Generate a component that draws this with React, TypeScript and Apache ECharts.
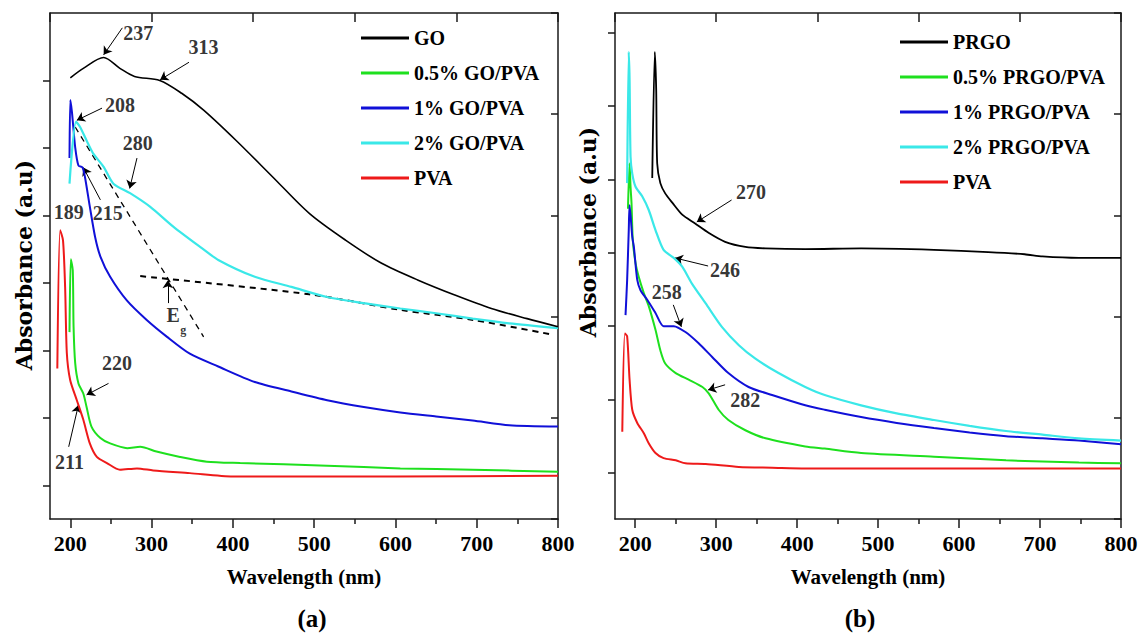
import React, { useEffect, useRef } from 'react';
import * as echarts from 'echarts';

// ---------- axis ticks ----------
const X_MAJOR = [200, 300, 400, 500, 600, 700, 800];
const X_MINOR = [250, 350, 450, 550, 650, 750];
const A_Y_TICKS = [0.5, 1.5, 2.5, 3.5, 4.5, 5.5, 6.5];
const B_Y_TICKS = [0, 1, 2, 3, 4, 5, 6];

// ---------- panel (a) ----------
const A_NAMES = ['GO', '0.5% GO/PVA', '1% GO/PVA', '2% GO/PVA', 'PVA'];
const GO = [[200, 6.54], [216, 6.68], [241, 6.84], [261, 6.68], [279, 6.56], [310, 6.5], [337, 6.31], [364, 6.06], [404, 5.61], [449, 5.07], [494, 4.53], [539, 4.13], [583, 3.79], [628, 3.54], [673, 3.32], [718, 3.12], [762, 2.97], [800, 2.85]];
const GO_PVA_05 = [[199, 2.77], [200.6, 3.85], [203, 3.69], [204, 2.85], [206, 2.31], [210, 2.01], [216, 1.86], [220, 1.66], [226, 1.37], [237, 1.2], [249, 1.12], [270, 1.05], [286, 1.07], [306, 1.0], [335, 0.92], [368, 0.85], [409, 0.83], [516, 0.79], [606, 0.75], [695, 0.73], [800, 0.7]];
const GO_PVA_1 = [[199, 5.35], [200, 6.21], [202, 6.03], [206, 5.51], [210, 5.24], [215, 5.21], [218, 5.07], [224, 4.63], [230.5, 4.18], [237, 3.89], [249, 3.59], [269.5, 3.24], [294, 2.95], [319, 2.7], [347, 2.45], [382, 2.26], [427, 2.03], [472, 1.89], [516, 1.76], [561, 1.66], [606, 1.58], [650, 1.52], [695, 1.46], [740, 1.39], [800, 1.37]];
const GO_PVA_2 = [[199, 4.97], [207, 5.89], [212, 5.81], [220, 5.61], [228, 5.42], [241, 5.22], [253, 4.97], [273.5, 4.83], [298, 4.63], [327, 4.33], [360, 4.03], [382, 3.84], [427, 3.59], [472, 3.44], [516, 3.29], [561, 3.2], [606, 3.12], [650, 3.05], [695, 2.97], [740, 2.9], [800, 2.83]];
const PVA_A = [[184, 2.23], [187.5, 4.28], [191, 4.13], [193.6, 3.44], [195.7, 2.46], [199.8, 2.06], [208, 1.76], [216, 1.47], [224, 1.12], [232.6, 0.92], [245, 0.83], [261, 0.73], [282, 0.75], [302, 0.72], [347, 0.68], [400, 0.63], [600, 0.63], [800, 0.64]];
const EG_STEEP = [[206, 5.81], [364, 2.7]];
const EG_FLAT = [[286, 3.6], [494, 3.33], [606, 3.1], [696, 2.95], [794, 2.73]];
const A_LABELS: [string, number, number][] = [['237', 283.5, 7.2], ['313', 364, 7.0], ['208', 261, 6.14], ['280', 283, 5.57], ['215', 246, 4.53], ['189', 198, 4.55], ['220', 257.5, 2.31], ['211', 199, 0.85]];
const A_ARROWS = [[[264, 7.28], [241, 6.88]], [[346, 6.77], [310.5, 6.51]], [[239, 6.09], [208, 5.91]], [[282, 5.35], [273, 4.9]], [[237, 4.73], [216, 5.21]], [[247, 2.01], [220, 1.84]], [[198, 1.07], [210, 1.69]], [[320, 3.2], [320, 3.54]]];

// ---------- panel (b) ----------
const B_NAMES = ['PRGO', '0.5% PRGO/PVA', '1% PRGO/PVA', '2% PRGO/PVA', 'PVA'];
const PRGO = [[221, 4.02], [224.2, 5.74], [225.9, 5.22], [227.1, 4.22], [231, 3.95], [237, 3.81], [246, 3.68], [258, 3.52], [274, 3.4], [291, 3.27], [311, 3.15], [336, 3.08], [361, 3.06], [410, 3.05], [479, 3.06], [569, 3.04], [636, 3.01], [681, 2.98], [703, 2.95], [748, 2.93], [800, 2.93]];
const PRGO_PVA_05 = [[191, 3.6], [193, 4.22], [194.2, 3.9], [195.4, 3.68], [197, 3.17], [200.4, 2.86], [204.4, 2.67], [210.6, 2.45], [216.8, 2.27], [225, 1.95], [231, 1.67], [237, 1.49], [250, 1.36], [266, 1.27], [283, 1.17], [291, 1.08], [303, 0.86], [315, 0.72], [336, 0.58], [361, 0.47], [410, 0.36], [434, 0.33], [479, 0.27], [569, 0.22], [658, 0.17], [748, 0.14], [800, 0.13]];
const PRGO_PVA_1 = [[188, 2.15], [190, 2.63], [192, 3.31], [193, 3.65], [196.3, 3.22], [198.3, 3.08], [202.5, 2.63], [206.5, 2.49], [214.8, 2.36], [225, 2.18], [235, 2.0], [247.6, 2.0], [262, 1.92], [278, 1.77], [295, 1.58], [315, 1.36], [340, 1.17], [369, 1.06], [410, 0.92], [434, 0.86], [479, 0.76], [523, 0.68], [569, 0.61], [613, 0.55], [658, 0.5], [703, 0.47], [748, 0.44], [800, 0.39]];
const PRGO_PVA_2 = [[190, 3.95], [192, 5.74], [193, 5.36], [194.2, 4.31], [196.3, 4.08], [200.4, 3.9], [208.6, 3.77], [216.8, 3.58], [225, 3.31], [235, 3.04], [247.6, 2.93], [258, 2.81], [270, 2.58], [287, 2.31], [307, 1.99], [328, 1.74], [348, 1.56], [377, 1.36], [410, 1.17], [434, 1.06], [479, 0.92], [523, 0.81], [569, 0.72], [613, 0.64], [658, 0.57], [703, 0.52], [748, 0.47], [800, 0.44]];
const PVA_B = [[184, 0.56], [187.2, 1.9], [190, 1.86], [193, 1.27], [196.3, 0.86], [202.5, 0.68], [210.6, 0.54], [216.8, 0.4], [225, 0.27], [235, 0.2], [250, 0.17], [262, 0.13], [287, 0.12], [328, 0.08], [369, 0.07], [410, 0.06], [800, 0.06]];
const B_LABELS: [string, number, number][] = [['270', 343, 3.83], ['246', 311, 2.77], ['258', 239, 2.47], ['282', 336, 0.99]];
const B_ARROWS = [[[319, 3.72], [276, 3.42]], [[290, 2.82], [249, 2.93]], [[247, 2.29], [257, 1.99]], [[311, 1.2], [290, 1.13]]];

const COLORS = { black: '#000000', green: '#1ee01e', blue: '#1010d8', cyan: '#3ae8e8', red: '#ee1a1a' };
const SERIF = 'Liberation Serif';
const SLAB = 'DejaVu Serif';
const AX = '#1a1a1a';

function line(name: string, data: number[][], color: string, xi: number, yi: number, width = 2, dashed = false, smooth: number | boolean = 0.25) {
  return {
    type: 'line', name, data, xAxisIndex: xi, yAxisIndex: yi, symbol: 'none', showSymbol: false,
    smooth,
    lineStyle: { color, width, type: dashed ? [6, 5] : 'solid' }, itemStyle: { color }, silent: true,
  };
}
function labels(data: [string, number, number][], xi: number, yi: number, size = 20, id = '') {
  return {
    type: 'scatter', name: 'labels' + id, xAxisIndex: xi, yAxisIndex: yi, symbolSize: 1,
    itemStyle: { color: 'rgba(0,0,0,0)' }, silent: true,
    data: data.map(([t, x, y]) => ({ name: t, value: [x, y] })),
    label: { show: true, position: 'inside', formatter: '{b}', color: '#000', fontFamily: SERIF, fontWeight: 'bold', fontSize: size },
  };
}
function arrows(data: number[][][], xi: number, yi: number) {
  return {
    type: 'lines', coordinateSystem: 'cartesian2d', xAxisIndex: xi, yAxisIndex: yi, silent: true,
    symbol: ['none', 'arrow'], symbolSize: 8,
    lineStyle: { color: '#000', width: 1, opacity: 1, curveness: 0 },
    data: data.map((c) => ({ coords: c })),
  };
}
function bottomAxis(g: number) {
  return {
    type: 'value', gridIndex: g, position: 'bottom', min: 175, max: 800,
    axisLine: { show: true, onZero: false, lineStyle: { color: AX, width: 1.5 } },
    axisTick: { show: true, customValues: X_MAJOR, length: 9, lineStyle: { color: AX, width: 1.5 } },
    axisLabel: { show: true, customValues: X_MAJOR, margin: 13, color: '#000', fontFamily: SERIF, fontWeight: 'bold', fontSize: 22 },
    splitLine: { show: false },
    name: 'Wavelength (nm)', nameLocation: 'middle', nameGap: 47,
    nameTextStyle: { color: '#000', fontFamily: SERIF, fontWeight: 'bold', fontSize: 21 },
  };
}
function minorAxis(g: number) {
  return {
    type: 'value', gridIndex: g, position: 'bottom', min: 175, max: 800,
    axisLine: { show: false, onZero: false },
    axisTick: { show: true, customValues: X_MINOR, length: 5, lineStyle: { color: AX, width: 1.5 } },
    axisLabel: { show: false }, splitLine: { show: false },
  };
}
function topAxis(g: number) {
  return {
    type: 'value', gridIndex: g, position: 'top', min: 0, max: 5, interval: 1,
    axisLine: { show: true, onZero: false, lineStyle: { color: AX, width: 1.5 } },
    axisTick: { show: true, inside: true, length: 9, lineStyle: { color: AX, width: 1.5 } },
    axisLabel: { show: false }, splitLine: { show: false },
  };
}
function leftAxis(g: number, min: number, max: number, ticks: number[]) {
  return {
    type: 'value', gridIndex: g, position: 'left', min, max,
    axisLine: { show: true, onZero: false, lineStyle: { color: AX, width: 1.5 } },
    axisTick: { show: true, customValues: ticks, length: 7, lineStyle: { color: AX, width: 1.5 } },
    axisLabel: { show: false }, splitLine: { show: false },
  };
}
function rightAxis(g: number) {
  return {
    type: 'value', gridIndex: g, position: 'right', min: 0, max: 5, interval: 1,
    axisLine: { show: true, onZero: false, lineStyle: { color: AX, width: 1.5 } },
    axisTick: { show: true, inside: true, length: 7, lineStyle: { color: AX, width: 1.5 } },
    axisLabel: { show: false }, splitLine: { show: false },
  };
}
function legend(names: string[], left: number, top: number) {
  return {
    data: names, orient: 'vertical', left, top, icon: 'rect', itemWidth: 48, itemHeight: 3, itemGap: 15,
    selectedMode: false,
    textStyle: { color: '#000', fontFamily: SERIF, fontWeight: 'bold', fontSize: 20, lineHeight: 20 },
  };
}

export default function App() {
  const ref = useRef<HTMLDivElement>(null);
  useEffect(() => {
    if (!ref.current) return;
    const chart = echarts.init(ref.current, null, { renderer: 'svg' });
    const option: any = {
      animation: false,
      backgroundColor: '#ffffff',
      grid: [
        { left: 50, top: 13, width: 508, height: 506, containLabel: false },
        { left: 615, top: 13, width: 506, height: 506, containLabel: false },
      ],
      xAxis: [bottomAxis(0), minorAxis(0), topAxis(0), bottomAxis(1), minorAxis(1), topAxis(1)],
      yAxis: [leftAxis(0, 0, 7.5, A_Y_TICKS), rightAxis(0), leftAxis(1, -0.63, 6.27, B_Y_TICKS), rightAxis(1)],
      legend: [legend(A_NAMES, 356, 23), legend(B_NAMES, 895, 27)],
      series: [
        line('Eg steep', EG_STEEP, '#000', 0, 0, 1.3, true, false),
        line('Eg flat', EG_FLAT, '#000', 0, 0, 2, true, 0.3),
        line('PVA', PVA_A, COLORS.red, 0, 0),
        line('0.5% GO/PVA', GO_PVA_05, COLORS.green, 0, 0),
        line('1% GO/PVA', GO_PVA_1, COLORS.blue, 0, 0),
        line('2% GO/PVA', GO_PVA_2, COLORS.cyan, 0, 0, 2.2),
        line('GO', GO, COLORS.black, 0, 0, 1.6, false, 0.3),
        labels(A_LABELS, 0, 0, 20, 'a'),
        labels([['E', 326.5, 3.02]], 0, 0, 20, 'e'),
        labels([['g', 339, 2.8]], 0, 0, 12, 'g'),
        arrows(A_ARROWS, 0, 0),
        line('PVA', PVA_B, COLORS.red, 3, 2),
        line('0.5% PRGO/PVA', PRGO_PVA_05, COLORS.green, 3, 2),
        line('1% PRGO/PVA', PRGO_PVA_1, COLORS.blue, 3, 2),
        line('2% PRGO/PVA', PRGO_PVA_2, COLORS.cyan, 3, 2, 2.2),
        line('PRGO', PRGO, COLORS.black, 3, 2, 1.8),
        labels(B_LABELS, 3, 2, 20, 'b'),
        arrows(B_ARROWS, 3, 2),
      ],
      graphic: [
        { type: 'text', x: 24, y: 265, rotation: Math.PI / 2, silent: true,
          style: { text: 'Absorbance (a.u)', fontFamily: SLAB, fontWeight: 'bold', fontSize: 22, fill: '#000', align: 'center', verticalAlign: 'middle' } },
        { type: 'text', x: 588, y: 232, rotation: Math.PI / 2, silent: true,
          style: { text: 'Absorbance (a.u)', fontFamily: SLAB, fontWeight: 'bold', fontSize: 22, fill: '#000', align: 'center', verticalAlign: 'middle' } },
        { type: 'text', x: 312, y: 618, silent: true,
          style: { text: '(a)', fontFamily: SERIF, fontWeight: 'bold', fontSize: 25, fill: '#000', align: 'center', verticalAlign: 'middle' } },
        { type: 'text', x: 860, y: 618, silent: true,
          style: { text: '(b)', fontFamily: SERIF, fontWeight: 'bold', fontSize: 25, fill: '#000', align: 'center', verticalAlign: 'middle' } },
      ],
    };
    chart.setOption(option);
    return () => chart.dispose();
  }, []);
  return <div ref={ref} style={{ position: 'fixed', left: 0, top: 0, width: 1142, height: 635, background: '#fff' }} />;
}
